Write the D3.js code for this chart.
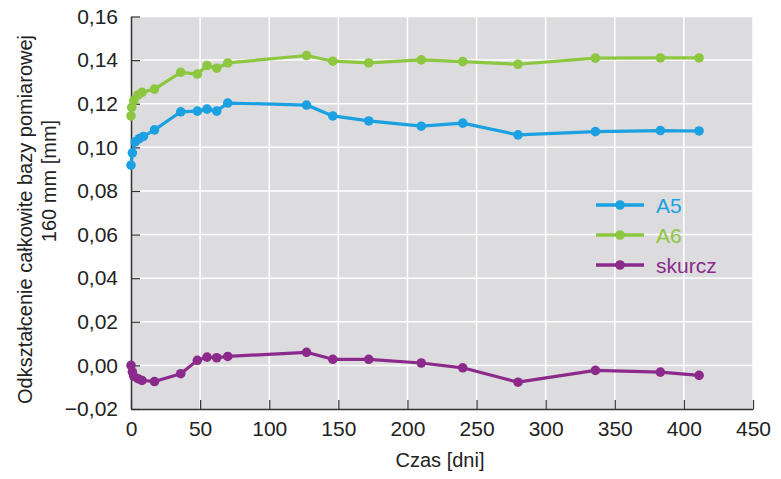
<!DOCTYPE html>
<html><head><meta charset="utf-8">
<script src="https://cdn.jsdelivr.net/npm/d3@7/dist/d3.min.js"></script>
<style>
body{margin:0;background:#fff;}
svg{display:block;font-family:"Liberation Sans",Arial,sans-serif;}
</style></head>
<body><svg id="c" width="781" height="479"></svg>
<script>
const days = [0,1,3,6,9,17,36,48,55,62,70,127,146,172,210,240,280,336,383,411];
const a5 =   [0.0918,0.0975,0.1025,0.1040,0.1050,0.1080,0.1163,0.1166,0.1175,0.1166,0.1203,0.1194,0.1144,0.1121,0.1097,0.1111,0.1057,0.1072,0.1077,0.1075];
const a6Days = [0,0.5,2,5,8,17,36,48,55,62,70,127,146,172,210,240,280,336,383,411];
const a6 =   [0.1144,0.1183,0.1214,0.1240,0.1252,0.1267,0.1344,0.1336,0.1375,0.1363,0.1387,0.1421,0.1395,0.1387,0.1401,0.1393,0.1381,0.1409,0.1410,0.1410];
const skDays = [0,1,2,5,8,17,36,48,55,62,70,127,146,172,210,240,280,336,383,411];
const skurcz = [0.0000,-0.0030,-0.0050,-0.0061,-0.0069,-0.0074,-0.0038,0.0023,0.0038,0.0035,0.0041,0.0060,0.0028,0.0028,0.0011,-0.0011,-0.0077,-0.0023,-0.0031,-0.0046];
const seriesNames = ["A5","A6","skurcz"];
const seriesColors = ["#1ba1e2","#8dc63f","#8b2a8b"];
const xTicks = [0,50,100,150,200,250,300,350,400,450];
const yTicks = [-0.02,0,0.02,0.04,0.06,0.08,0.10,0.12,0.14,0.16];

const series = [
  {name:seriesNames[0], color:seriesColors[0], pts:days.map((d,i)=>[d,a5[i]])},
  {name:seriesNames[1], color:seriesColors[1], pts:a6Days.map((d,i)=>[d,a6[i]])},
  {name:seriesNames[2], color:seriesColors[2], pts:skDays.map((d,i)=>[d,skurcz[i]])}
];

const svg = d3.select("#c");
const x = d3.scaleLinear().domain([0,450]).range([131,753]);
const y = d3.scaleLinear().domain([-0.02,0.16]).range([409,16.5]);
const fmt = v => d3.format(".2f")(v).replace(".",",").replace("-","\u2212");

// plot background
svg.append("rect").attr("x",x(0)).attr("y",y(0.16)).attr("width",x(450)-x(0)).attr("height",y(-0.02)-y(0.16)).attr("fill","#dcdcdf");

// grid
svg.append("g").selectAll("line").data(xTicks.slice(1)).join("line")
  .attr("x1",d=>x(d)).attr("x2",d=>x(d)).attr("y1",y(0.16)).attr("y2",y(-0.02))
  .attr("stroke","#fff").attr("stroke-width",1.5);
svg.append("g").selectAll("line").data(yTicks.slice(1)).join("line")
  .attr("x1",x(0)).attr("x2",x(450)).attr("y1",d=>y(d)).attr("y2",d=>y(d))
  .attr("stroke","#fff").attr("stroke-width",1.5);

// axes (inner ticks)
const xAxis = d3.axisBottom(x).tickValues(xTicks).tickSizeInner(-9).tickSizeOuter(0).tickPadding(12).tickFormat(d3.format("d"));
const gx = svg.append("g").attr("transform",`translate(0,${y(-0.02)})`).call(xAxis);
const yAxis = d3.axisLeft(y).tickValues(yTicks).tickSizeInner(-9).tickSizeOuter(0).tickPadding(13).tickFormat(fmt);
const gy = svg.append("g").attr("transform",`translate(${x(0)},0)`).call(yAxis);
[gx,gy].forEach(g=>{
  g.select(".domain").attr("stroke","#333").attr("stroke-width",1.5);
  g.selectAll(".tick line").attr("stroke","#333").attr("stroke-width",1.2);
  g.selectAll(".tick text").attr("fill","#222").style("font-size","21px").style("font-family","'Liberation Sans',Arial,sans-serif");
});

// lines and markers
const line = d3.line().x(d=>x(d[0])).y(d=>y(d[1]));
series.forEach(s=>{
  svg.append("path").datum(s.pts).attr("d",line).attr("fill","none")
    .attr("stroke",s.color).attr("stroke-width",3.2).attr("stroke-linejoin","round");
  svg.append("g").selectAll("circle").data(s.pts).join("circle")
    .attr("cx",d=>x(d[0])).attr("cy",d=>y(d[1])).attr("r",4.8).attr("fill",s.color);
});

// legend
const lg = svg.append("g");
series.forEach((s,i)=>{
  const ly = 205 + i*30;
  lg.append("line").attr("x1",596).attr("x2",644).attr("y1",ly).attr("y2",ly).attr("stroke",s.color).attr("stroke-width",3.5);
  lg.append("circle").attr("cx",620).attr("cy",ly).attr("r",4.8).attr("fill",s.color);
  lg.append("text").attr("x",656).attr("y",ly+7.5).attr("fill",s.color).style("font-size","21px").text(s.name);
});

// axis titles
svg.append("text").attr("x",440).attr("y",467).attr("text-anchor","middle").attr("fill","#222").style("font-size","20px").text("Czas [dni]");
svg.append("text").attr("transform","translate(32,219.5) rotate(-90)").attr("text-anchor","middle").attr("fill","#222").style("font-size","20px").text("Odkształcenie całkowite bazy pomiarowej");
svg.append("text").attr("transform","translate(56,181) rotate(-90)").attr("text-anchor","middle").attr("fill","#222").style("font-size","20px").text("160 mm [mm]");
</script></body></html>
